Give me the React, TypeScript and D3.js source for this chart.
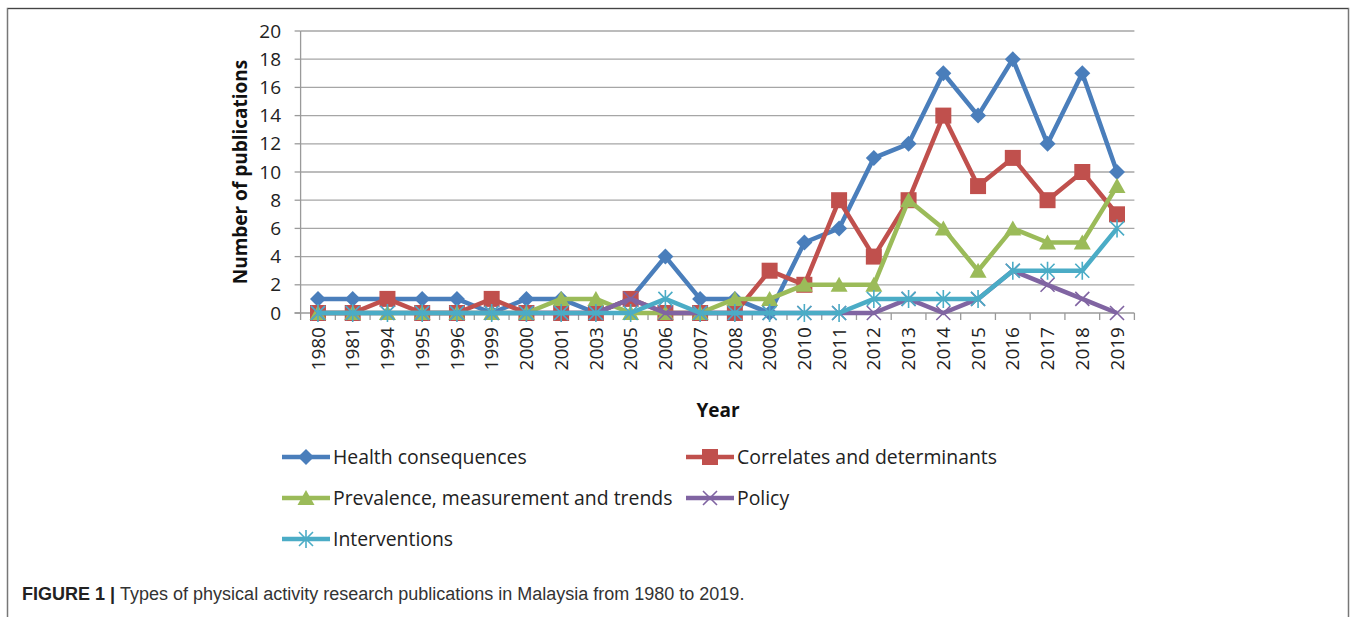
import React from 'react'
import * as d3 from 'd3'

const years = ['1980', '1981', '1994', '1995', '1996', '1999', '2000', '2001', '2003', '2005', '2006', '2007',
    '2008', '2009', '2010', '2011', '2012', '2013', '2014', '2015', '2016', '2017', '2018', '2019']

const health = [1, 1, 1, 1, 1, 0, 1, 1, 0, 1, 4, 1, 1, 0, 5, 6, 11, 12, 17, 14, 18, 12, 17, 10]
const correlates = [0, 0, 1, 0, 0, 1, 0, 0, 0, 1, 0, 0, 0, 3, 2, 8, 4, 8, 14, 9, 11, 8, 10, 7]
const prevalence = [0, 0, 0, 0, 0, 0, 0, 1, 1, 0, 0, 0, 1, 1, 2, 2, 2, 8, 6, 3, 6, 5, 5, 9]
const policy = [0, 0, 0, 0, 0, 0, 0, 0, 0, 1, 0, 0, 0, 0, 0, 0, 0, 1, 0, 1, 3, 2, 1, 0]
const interventions = [0, 0, 0, 0, 0, 0, 0, 0, 0, 0, 1, 0, 0, 0, 0, 0, 1, 1, 1, 1, 3, 3, 3, 6]

const yTicks = [0, 2, 4, 6, 8, 10, 12, 14, 16, 18, 20]

const series = [
    { name: 'Health consequences', values: health, color: '#4a7ebb', marker: 'diamond' },
    { name: 'Correlates and determinants', values: correlates, color: '#c0504d', marker: 'square' },
    { name: 'Prevalence, measurement and trends', values: prevalence, color: '#9bbb59', marker: 'triangle' },
    { name: 'Policy', values: policy, color: '#8064a2', marker: 'x' },
    { name: 'Interventions', values: interventions, color: '#4bacc6', marker: 'star' },
]

const font = '"Open Sans", sans-serif'

function markerPath(kind: string) {
    switch (kind) {
        case 'diamond':
            return 'M0,-8L8,0L0,8L-8,0Z'
        case 'square':
            return 'M-8,-8H8V8H-8Z'
        case 'triangle':
            return 'M0,-8L8.5,7L-8.5,7Z'
        case 'x':
            return 'M-7,-7L7,7M7,-7L-7,7'
        default:
            return 'M-7,-7L7,7M7,-7L-7,7M0,-9V9'
    }
}

function Marker({ kind, color, x, y }: { kind: string, color: string, x: number, y: number }) {
    const open = kind === 'x' || kind === 'star'
    return (
        <path d={markerPath(kind)} transform={`translate(${x},${y})`}
            fill={open ? 'none' : color} stroke={color} strokeWidth={open ? 1.6 : 0} />
    )
}

export default function App() {
    const left = 300.6, right = 1134.4, top = 31, bottom = 313

    const x = d3.scaleBand().domain(years).range([left, right]).padding(0)
    const y = d3.scaleLinear().domain([0, 20]).range([bottom, top])
    const cx = (d: string) => (x(d) as number) + x.bandwidth() / 2

    const line = d3.line<number>()
        .x((d, i) => cx(years[i]))
        .y(d => y(d))

    // legend slots, two columns
    const legendPos = [
        { x: 282, y: 457 }, { x: 686, y: 457 },
        { x: 282, y: 498 }, { x: 686, y: 498 },
        { x: 282, y: 539 },
    ]

    return (
        <svg width={1357} height={617} style={{ position: 'absolute', left: 0, top: 0, background: '#fff' }}>
            <path d="M7.5,640V8.5H1348.5V640" fill="none" stroke="#777" strokeWidth={1.5} />
            <line x1={8} x2={1348} y1={8.5} y2={8.5} stroke="#444" strokeWidth={1} />

            {yTicks.filter(t => t > 0).map(t => (
                <line key={t} x1={left} x2={right} y1={y(t)} y2={y(t)} stroke="#a6a6a6" strokeWidth={1.3} />
            ))}
            <line x1={left} x2={left} y1={top} y2={bottom} stroke="#9a9a9a" strokeWidth={1.3} />
            {yTicks.map(t => (
                <g key={t}>
                    <line x1={left - 6} x2={left} y1={y(t)} y2={y(t)} stroke="#9a9a9a" strokeWidth={1.3} />
                    <text x={281} y={y(t)} dy="0.35em" textAnchor="end" fontFamily={font} fontSize={19}
                        fill="#222">{t}</text>
                </g>
            ))}
            <line x1={left - 6} x2={right} y1={bottom} y2={bottom} stroke="#9a9a9a" strokeWidth={1.3} />
            {years.map(d => (
                <line key={'t' + d} x1={x(d) as number} x2={x(d) as number} y1={bottom} y2={bottom + 7}
                    stroke="#9a9a9a" strokeWidth={1.3} />
            ))}
            <line x1={right} x2={right} y1={bottom} y2={bottom + 7} stroke="#9a9a9a" strokeWidth={1.3} />
            {years.map(d => (
                <text key={d} transform={`translate(${cx(d)},${bottom + 14}) rotate(-90)`} dy="0.35em"
                    textAnchor="end" fontFamily={font} fontSize={19} fill="#222">{d}</text>
            ))}

            <text transform={`translate(240,172) rotate(-90)`} dy="0.35em" textAnchor="middle" fontFamily={font}
                fontSize={19} fontWeight="bold" fill="#111">Number of publications</text>
            <text x={718} y={410} dy="0.35em" textAnchor="middle" fontFamily={font} fontSize={19}
                fontWeight="bold" fill="#111">Year</text>

            {series.map(s => (
                <g key={s.name}>
                    <path d={line(s.values) as string} fill="none" stroke={s.color} strokeWidth={4.5}
                        strokeLinejoin="round" />
                    {s.values.map((v, i) => (
                        <Marker key={i} kind={s.marker} color={s.color} x={cx(years[i])} y={y(v)} />
                    ))}
                </g>
            ))}

            {series.map((s, i) => {
                const p = legendPos[i]
                return (
                    <g key={'l' + s.name} transform={`translate(${p.x},${p.y})`}>
                        <line x1={0} x2={48} y1={0} y2={0} stroke={s.color} strokeWidth={4.5} />
                        <Marker kind={s.marker} color={s.color} x={24} y={0} />
                        <text x={51} y={0} dy="0.35em" fontFamily={font} fontSize={19.4} fill="#222">{s.name}</text>
                    </g>
                )
            })}

            <text x={22} y={600} fontFamily='"Liberation Sans", Arial, sans-serif' fontSize={18} fill="#333">
                <tspan fontWeight="bold" fill="#222">FIGURE 1 | </tspan>
                Types of physical activity research publications in Malaysia from 1980 to 2019.
            </text>
        </svg>
    )
}
